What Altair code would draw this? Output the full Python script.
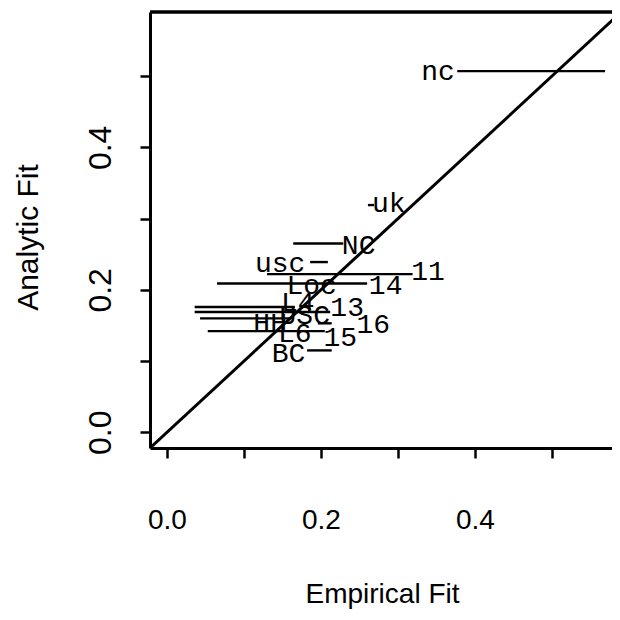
import altair as alt
import pandas as pd

# Labels and their (empirical, analytic) positions
labels = ["nc", "uk", "NC", "usc", "11", "14", "Loc", "L4", "13", "USC", "HH", "16", "15", "L6", "BC"]
label_x = [0.352, 0.288, 0.249, 0.147, 0.339, 0.284, 0.188, 0.170, 0.234, 0.179, 0.134, 0.268, 0.225, 0.166, 0.158]
label_y = [0.506, 0.320, 0.261, 0.236, 0.225, 0.205, 0.205, 0.181, 0.174, 0.163, 0.152, 0.150, 0.133, 0.138, 0.110]

# Horizontal interval segments
seg_lo = [0.377, 0.261, 0.164, 0.186, 0.130, 0.065, 0.036, 0.036, 0.043, 0.196, 0.053, 0.182]
seg_hi = [0.569, 0.269, 0.229, 0.209, 0.319, 0.260, 0.166, 0.212, 0.160, 0.214, 0.205, 0.214]
seg_y = [0.507, 0.319, 0.265, 0.239, 0.222, 0.209, 0.176, 0.169, 0.160, 0.153, 0.142, 0.115]

diag_vals = [-0.022, 0.6]
x_dom = [-0.022, 0.578]
y_dom = [-0.022, 0.590]
tick_vals = [0.0, 0.1, 0.2, 0.3, 0.4, 0.5]

W, H = 462, 436

lab_df = pd.DataFrame({"label": labels, "x": label_x, "y": label_y})
seg_df = pd.DataFrame({"lo": seg_lo, "hi": seg_hi, "y": seg_y})
diag_df = pd.DataFrame({"x": diag_vals, "y": diag_vals})

xscale = alt.Scale(domain=x_dom, nice=False, zero=False)
yscale = alt.Scale(domain=y_dom, nice=False, zero=False)

lab_expr = "(round(datum.value*10) % 2 == 0) ? format(datum.value, '.1f') : ''"

xaxis = alt.Axis(
    values=tick_vals, labelExpr=lab_expr, grid=False,
    tickSize=10, tickWidth=2.5, tickColor="black",
    domainColor="black", domainWidth=3,
    labelFont="Liberation Sans", labelFontSize=28, labelColor="black",
    labelPadding=62, labelBaseline="middle", labelAlign="center",
    title="Empirical Fit", titleFont="Liberation Sans", titleFontSize=28,
    titleFontWeight="normal", titleColor="black",
    titleX=232, titleY=146, titleBaseline="middle", titleAlign="center",
)
yaxis = alt.Axis(
    values=tick_vals, labelExpr=lab_expr, grid=False,
    tickSize=10, tickWidth=2.5, tickColor="black",
    domainColor="black", domainWidth=3,
    labelFont="Liberation Sans", labelFontSize=32, labelColor="black",
    labelAngle=270, labelPadding=40, labelBaseline="middle", labelAlign="center",
    title="Analytic Fit", titleFont="Liberation Sans", titleFontSize=30,
    titleFontWeight="normal", titleColor="black", titleAngle=270,
    titleX=-122, titleY=225, titleBaseline="middle", titleAlign="center",
)

diag = alt.Chart(diag_df).mark_line(color="black", strokeWidth=3, clip=True).encode(
    x=alt.X("x:Q", scale=xscale, axis=xaxis),
    y=alt.Y("y:Q", scale=yscale, axis=yaxis),
)

segs = alt.Chart(seg_df).mark_rule(color="black", strokeWidth=2.4, clip=True).encode(
    x=alt.X("lo:Q", scale=xscale),
    x2="hi:Q",
    y=alt.Y("y:Q", scale=yscale),
)

texts = alt.Chart(lab_df).mark_text(
    font="Liberation Mono", fontSize=28, color="black", align="center", baseline="middle"
).encode(
    x=alt.X("x:Q", scale=xscale),
    y=alt.Y("y:Q", scale=yscale),
    text="label:N",
)

top_border = alt.Chart(diag_df).mark_rule(color="black", strokeWidth=3).encode(
    x=alt.value(0), x2=alt.value(W), y=alt.value(0)
)

chart = alt.layer(diag, segs, texts, top_border).properties(
    width=W, height=H,
    autosize=alt.AutoSizeParams(type="none"),
    padding={"left": 142, "top": 4, "right": 0, "bottom": 164},
).configure_view(stroke=None).configure(background="white")

chart.save("out.html", embed_options={"renderer": "svg", "actions": False})
